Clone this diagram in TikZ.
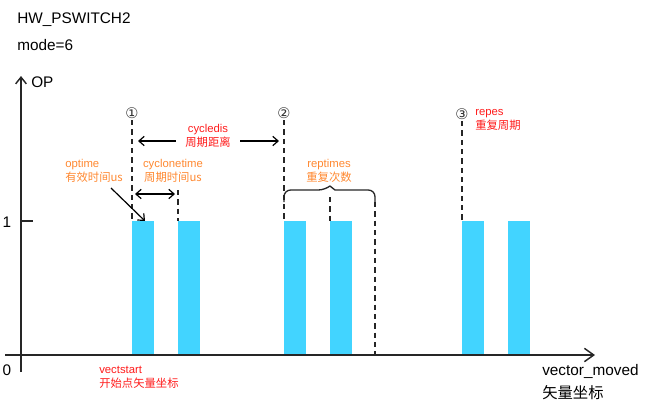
\documentclass[tikz,border=0pt]{standalone}
\usepackage{fontspec}
\setmainfont{Liberation Sans}
\newfontfamily\cjk{Noto Sans CJK SC}
\newfontfamily\symfont{DejaVu Sans}
\usetikzlibrary{arrows.meta}

\definecolor{pulsecyan}{RGB}{66,212,255}
\definecolor{labelred}{RGB}{255,28,28}
\definecolor{labelorange}{RGB}{255,136,48}

\begin{document}
\begin{tikzpicture}[x=0.75pt, y=-0.75pt,
  bigtext/.style={font=\fontsize{11.5}{15}\selectfont, inner sep=0pt, align=left},
  lbl/.style={font=\fontsize{8.5}{10.5}\selectfont, inner sep=0pt},
  circnum/.style={font=\symfont\fontsize{11}{12}\selectfont, text=black!80, inner sep=0pt},
  guide/.style={line width=1.1pt, dash pattern=on 4pt off 3pt, black!85},
  dimarrow/.style={line width=0.9pt, {Straight Barb[length=4pt,width=7pt]}-{Straight Barb[length=4pt,width=7pt]}},
  onearrow/.style={line width=0.9pt, -{Straight Barb[length=4pt,width=7pt]}}]
  \useasboundingbox (0,0) rectangle (665,412);

  % Title
  \node[bigtext, anchor=west] (title) at (17,20) {HW\_PSWITCH2};
  \node[bigtext, anchor=west] (mode) at (17,45) {mode=6};

  % Pulses
  \foreach \x [count=\i] in {132,178,284,330,462,508} {
    \fill[pulsecyan] (\x,221) rectangle ++(22,134);
    \coordinate (b\i) at (\x,221);
  }

  % Axes
  \coordinate (ybot) at (21,372);
  \coordinate (ytop) at (21,76);
  \coordinate (xleft) at (5,355);
  \coordinate (xright) at (595,355);
  \draw[line width=1.1pt, black!85, -{Straight Barb[length=5pt,width=8pt]}] (ybot) -- (ytop);
  \draw[line width=1.1pt, black!85, -{Straight Barb[length=7pt,width=10pt]}] (xleft) -- (xright);
  \draw[line width=1.1pt, black!85] (21,221) -- (33,221);
  \node[bigtext, anchor=west] (op) at (31,82) {OP};
  \node[bigtext] (one) at (7,222) {1};
  \node[bigtext] (zero) at (7,370) {0};
  \node[bigtext, anchor=north west] (moved) at (542,364) {vector\_moved\\[2pt]{\cjk 矢量坐标}};

  % Period markers
  \node[circnum] (c1) at (132,113) {①};
  \node[circnum] (c2) at (284,113) {②};
  \node[circnum] (c3) at (462,114) {③};
  \draw[guide] ([yshift=-1pt]c1.south) -- (b1);
  \draw[guide] ([yshift=-1pt]c2.south) -- (b3);
  \draw[guide] ([yshift=-1pt]c3.south) -- (b5);
  \coordinate (g2) at (178,190);
  \draw[guide] (g2) -- (b2);
  \coordinate (g4) at (330,197);
  \draw[guide] (g4) -- (b4);
  \coordinate (brR) at (375,202);
  \coordinate (endR) at (375,355);
  \draw[guide] (brR) -- (endR);

  % cycledis
  \node[lbl, labelred, align=center, inner xsep=7pt] (cycledis) at (208,136) {cycledis\\{\cjk 周期距离}};
  \coordinate (cdL) at (138,141);
  \coordinate (cdR) at (279,141);
  \draw[onearrow] (cycledis.west |- cdL) -- (cdL);
  \draw[onearrow] (cycledis.east |- cdR) -- (cdR);

  % cyclonetime
  \node[lbl, labelorange, align=center] (cyclone) at (173,171) {cyclonetime\\{\cjk 周期时间us}};
  \coordinate (ctL) at (135,194);
  \coordinate (ctR) at (175,194);
  \draw[dimarrow] (ctL) -- (ctR);

  % optime
  \node[lbl, labelorange, align=left, anchor=west] (optime) at (65,171) {optime\\{\cjk 有效时间us}};
  \coordinate (optail) at (111,188);
  \coordinate (ophead) at (145,221);
  \draw[onearrow] (optail) -- (ophead);

  % reptimes
  \node[lbl, labelorange, align=center] (reptimes) at (329,171) {reptimes\\{\cjk 重复次数}};
  \coordinate (brL) at (284,202);
  \draw[line width=1pt, black!85] (brL) [rounded corners=5pt] -- (284,190) -- (325,190)
    [sharp corners] -- (330,186) -- (335,190) [rounded corners=5pt] -- (375,190) -- (brR);

  % repes
  \node[lbl, labelred, align=left, anchor=west] (repes) at (475,120) {repes\\{\cjk 重复周期}};

  % vectstart
  \node[lbl, labelred, align=left, anchor=west] (vectstart) at (99,377) {vectstart\\{\cjk 开始点矢量坐标}};
\end{tikzpicture}
\end{document}
